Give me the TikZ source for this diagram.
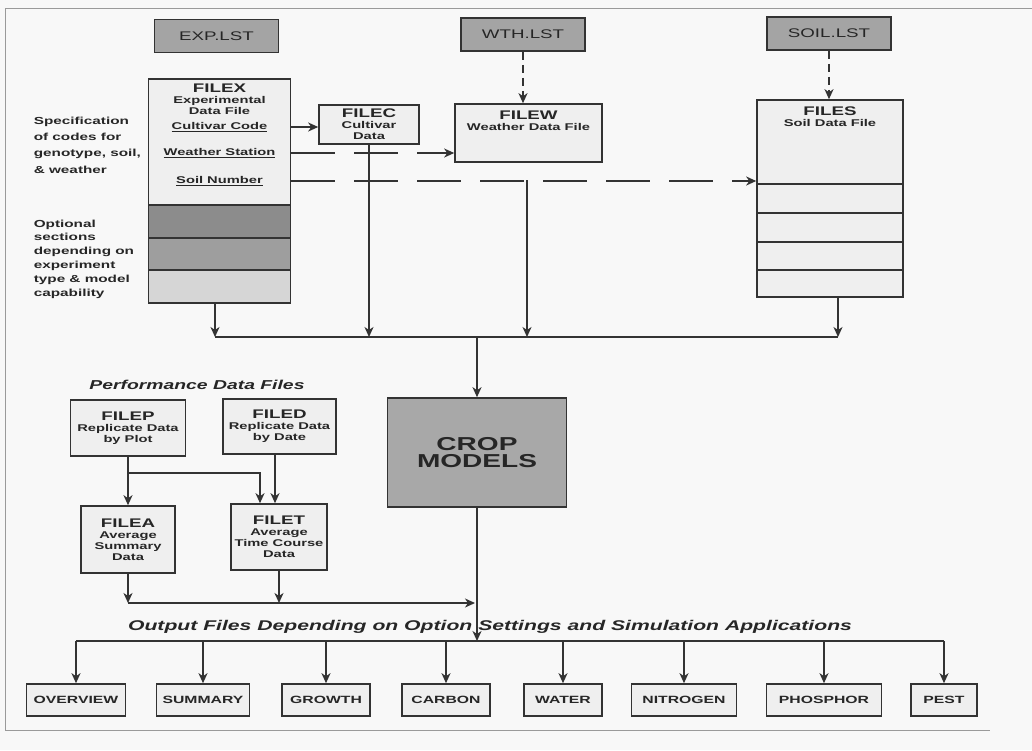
\documentclass[tikz,border=0pt]{standalone}
\usepackage{fontspec}
\setmainfont{Liberation Sans}[FakeStretch=1.5]
\usetikzlibrary{arrows.meta}

\definecolor{linec}{HTML}{333333}
\definecolor{textc}{HTML}{262626}
\definecolor{bgc}{HTML}{F8F8F8}
\definecolor{boxc}{HTML}{EFEFEF}
\definecolor{lstc}{HTML}{A4A4A4}
\definecolor{cropc}{HTML}{A8A8A8}
\definecolor{secdark}{HTML}{8C8C8C}
\definecolor{secmid}{HTML}{9E9E9E}
\definecolor{seclight}{HTML}{D6D6D6}
\definecolor{framec}{HTML}{9A9A9A}

\newcommand{\fttl}{\fontsize{12.5}{11}\selectfont\bfseries}
\newcommand{\fsub}{\fontsize{9.8}{11}\selectfont\bfseries}
\newcommand{\fside}{\fontsize{10.2}{16.4}\selectfont\bfseries}
\newcommand{\fopt}{\fontsize{10.2}{13.8}\selectfont\bfseries}
\newcommand{\flst}{\fontsize{12.5}{13}\selectfont}
\newcommand{\fhead}{\bfseries\itshape}
\newcommand{\fout}{\fontsize{10.5}{12}\selectfont\bfseries}
\newcommand{\fcrop}{\fontsize{18.7}{17}\selectfont\bfseries}

\tikzset{every picture/.style={line width=1.6pt}}
\tikzset{
  filebox/.style={draw=linec, fill=boxc, inner sep=1pt, align=center, font=\fsub},
  lstbox/.style={draw=linec, fill=lstc, minimum width=124pt, minimum height=33pt, font=\flst},
  outbox/.style={draw=linec, fill=boxc, minimum height=32pt, font=\fout},
  flow/.style={draw=linec, -{Stealth[length=10pt,width=9pt,inset=3pt]}},
  longdash/.style={flow, dash pattern=on 44pt off 19pt},
  shortdash/.style={flow, dash pattern=on 8pt off 5pt},
}

\begin{document}
\begin{tikzpicture}[x=1pt,y=-1pt, every node/.style={text=textc, inner sep=0pt}]
	\useasboundingbox (0,0) rectangle (1032,750);
	\fill[bgc] (0,0) rectangle (1032,750);
	% frame
	\draw[framec, line width=0.6pt] (1032,8) -- (5,8) -- (5,730) -- (990,730);

	% list files
	\node[lstbox] (EXP) at (216.5,36) {EXP.LST};
	\node[lstbox] (WTH) at (523,34.5) {WTH.LST};
	\node[lstbox] (SOIL) at (829,33.5) {SOIL.LST};

	% FILEX with its sections
	\node[filebox, minimum width=142pt, minimum height=224pt] (FILEX) at (219.5,191) {};
	\draw[draw=linec, fill=secdark] (148.5,205) rectangle (290.5,238);
	\draw[draw=linec, fill=secmid] (148.5,238) rectangle (290.5,270);
	\draw[draw=linec, fill=seclight] (148.5,270) rectangle (290.5,303);
	\node[anchor=north, align=center, font=\fsub] (xhead) at (219.5,83.5) {{\fttl FILEX}\\Experimental\\Data File};
	\node[font=\fsub] (cult) at (219.5,127) {\underline{Cultivar Code}};
	\node[font=\fsub] (wst) at (219.5,153) {\underline{Weather Station}};
	\node[font=\fsub] (soilno) at (219.5,181) {\underline{Soil Number}};

	% side notes
	\node[anchor=north west, align=left, font=\fside] (spec) at (33,116) {Specification\\of codes for\\genotype, soil,\\\& weather};
	\node[anchor=north west, align=left, font=\fopt] (optnote) at (33,219) {Optional\\sections\\depending on\\experiment\\type \& model\\capability};

	% cultivar, weather and soil files
	\node[filebox, minimum width=100pt, minimum height=39pt] (FILEC) at (369,124.5) {{\fttl FILEC}\\Cultivar\\Data};
	\node[filebox, minimum width=147pt, minimum height=58pt] (FILEW) at (528.5,133) {};
	\node[anchor=north, align=center, font=\fsub] (whead) at (528.5,110.5) {{\fttl FILEW}\\Weather Data File};
	\node[filebox, minimum width=146pt, minimum height=197pt] (FILES) at (830,198.5) {};
	\foreach \y in {184,213,242,270}
		\draw[linec] (757,\y) -- (903,\y);
	\node[anchor=north, align=center, font=\fsub] (shead) at (830,105.5) {{\fttl FILES}\\Soil Data File};

	% code links
	\draw[longdash] (cult -| FILEX.east) -- (cult -| FILEC.west);
	\draw[longdash] (wst -| FILEX.east) -- (wst -| FILEW.west);
	\draw[longdash] (soilno -| FILEX.east) -- (soilno -| FILES.west);
	\draw[shortdash] (WTH.south) -- (WTH.south |- FILEW.north);
	\draw[shortdash] (SOIL.south) -- (SOIL.south |- FILES.north);

	% crop models and input bus
	\node[draw=linec, fill=cropc, minimum width=179pt, minimum height=109pt, align=center, font=\fcrop] (CROP) at (477,452.5) {CROP\\MODELS};
	\coordinate (bus) at (CROP.north |- 0,337);
	\coordinate (xtap) at ([xshift=-4.5pt]FILEX.south);
	\coordinate (wtap) at (527,180);
	\coordinate (stap) at ([xshift=8pt]FILES.south);
	\draw[linec] (xtap |- bus) -- (stap |- bus);
	\draw[flow] (xtap) -- (xtap |- bus);
	\draw[flow] (FILEC.south) -- (FILEC.south |- bus);
	\draw[flow] (wtap) -- (wtap |- bus);
	\draw[flow] (stap) -- (stap |- bus);
	\draw[flow] (bus) -- (CROP.north);

	% performance data files
	\node[font=\fontsize{12.9}{13}\selectfont\fhead] (perf) at (197,385) {Performance Data Files};
	\node[filebox, minimum width=115pt, minimum height=56pt] (FILEP) at (128,428) {{\fttl FILEP}\\Replicate Data\\by Plot};
	\node[filebox, minimum width=113pt, minimum height=55pt] (FILED) at (279.5,426.5) {{\fttl FILED}\\Replicate Data\\by Date};
	\node[filebox, minimum width=94pt, minimum height=67pt] (FILEA) at (128,539.5) {{\fttl FILEA}\\Average\\Summary\\Data};
	\node[filebox, minimum width=96pt, minimum height=66pt] (FILET) at (279,537) {{\fttl FILET}\\Average\\Time Course\\Data};
	\coordinate (pbr) at (FILEP.south |- 0,473);
	\coordinate (tin) at ([xshift=-19pt]FILET.north);
	\coordinate (din) at ([xshift=-4.5pt]FILED.south);
	\draw[flow] (FILEP.south) -- (FILEA.north);
	\draw[flow] (pbr) -| (tin);
	\draw[flow] (din) -- (din |- FILET.north);
	\coordinate (pbus) at (0,603);
	\draw[flow] (FILEA.south) -- (FILEA.south |- pbus);
	\draw[flow] (FILET.south) -- (FILET.south |- pbus);
	\draw[flow] (FILEA.south |- pbus) -- ([xshift=-2pt]CROP.south |- pbus);

	% output files
	\node[font=\fontsize{14.1}{14}\selectfont\fhead] (outhead) at (490,627) {Output Files Depending on Option Settings and Simulation Applications};
	\node[outbox, minimum width=99pt] (OVERVIEW) at (76,700) {OVERVIEW};
	\node[outbox, minimum width=93pt] (SUMMARY) at (203,700) {SUMMARY};
	\node[outbox, minimum width=88pt] (GROWTH) at (326,700) {GROWTH};
	\node[outbox, minimum width=88pt] (CARBON) at (446,700) {CARBON};
	\node[outbox, minimum width=78pt] (WATER) at (563,700) {WATER};
	\node[outbox, minimum width=105pt] (NITROGEN) at (684,700) {NITROGEN};
	\node[outbox, minimum width=115pt] (PHOSPHOR) at (824,700) {PHOSPHOR};
	\node[outbox, minimum width=66pt] (PEST) at (944,700) {PEST};
	\coordinate (obus) at (CROP.south |- 0,641);
	\draw[flow] (CROP.south) -- (obus);
	\draw[linec] (OVERVIEW.north |- obus) -- (PEST.north |- obus);
	\foreach \b in {OVERVIEW,SUMMARY,GROWTH,CARBON,WATER,NITROGEN,PHOSPHOR,PEST}
		\draw[flow] (\b.north |- obus) -- (\b.north);
\end{tikzpicture}
\end{document}
